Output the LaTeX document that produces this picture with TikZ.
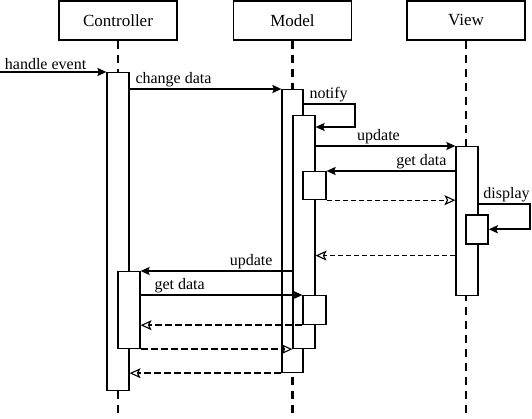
\documentclass[tikz,border=0pt]{standalone}
\usepackage{fontspec}
\setmainfont{Liberation Serif}
\usetikzlibrary{arrows.meta,positioning}

\tikzset{
	head/.style={draw, line width=1.5pt, minimum width=118pt, minimum height=39pt, inner sep=0pt, font=\fontsize{17}{20}\selectfont},
	life/.style={line width=2.6pt, dash pattern=on 8pt off 6pt},
	bar/.style={draw, fill=white, line width=1.2pt, anchor=north, inner sep=0pt, minimum width=22pt},
	call/.style={line width=1.8pt, -{Stealth[length=9pt,width=8pt,inset=1.5pt]}},
	ret/.style={line width=1.3pt, dash pattern=on 5pt off 3pt, -{Stealth[open,length=11pt,width=10pt,inset=2.5pt,line width=1.1pt,sep=0pt]}},
	retb/.style={ret, line width=2.4pt, dash pattern=on 7pt off 3pt},
	lbl/.style={font=\fontsize{16}{18}\selectfont, inner sep=1pt}
}

\begin{document}
\begin{tikzpicture}[x=1pt,y=-1pt]
	\useasboundingbox (0,0) rectangle (532,419);
	\coordinate (start) at (0,72);
	\coordinate (bottom) at (0,419);

	% objects and lifelines
	\node[head] (ctrl) at (118,20.5) {Controller};
	\node[head] (model) at (292.5,20.5) {Model};
	\node[head] (view) at (466,20.5) {View};
	\foreach \o in {ctrl,model,view}
		\draw[life] (\o.south) -- (\o.south |- bottom);

	% activations
	\node[bar, minimum height=318pt] (cbar) at (118,72) {};
	\node[bar, minimum height=77pt] (cnest) at (129,271) {};
	\node[bar, minimum height=283pt, minimum width=21pt] (mo) at (292.5,89) {};
	\node[bar, minimum height=233pt] (mi) at (304,115) {};
	\node[bar, minimum height=28pt, minimum width=23pt] (m1) at (314.5,171) {};
	\node[bar, minimum height=29pt, minimum width=23pt] (m2) at (314.5,295) {};
	\node[bar, minimum height=149pt] (vbar) at (467,146) {};
	\node[bar, minimum height=29pt, line width=1.6pt] (v1) at (477,214) {};

	% messages
	\draw[call] (start) -- node[lbl, above right, pos=0, xshift=3pt] {handle event} (cbar.north west);
	\draw[call] (cbar.east |- mo.north) -- node[lbl, above right, pos=0, xshift=4pt] {change data} (mo.north west);
	\draw[call] ([yshift=-15pt]mo.north east) node[lbl, above right, xshift=4pt] {notify} -- ++(51,0) |- ([yshift=-12pt]mi.north east);
	\draw[call] (mi.east |- vbar.north) -- node[lbl, above, pos=0.45] {update} (vbar.north west);
	\draw[call] (vbar.west |- m1.north) -- node[lbl, above left, pos=0, xshift=-7pt] {get data} (m1.north east);
	\draw[ret] (m1.south east) -- (vbar.west |- m1.south);
	\draw[call] ([yshift=10pt]v1.north -| vbar.east) -- ++(51,0) node[lbl, above left, xshift=2pt] {display} |- (v1.east);
	\draw[ret] ([yshift=-11pt]v1.south -| vbar.west) coordinate (r2) -- (mi.east |- r2);
	\draw[call] (mi.west |- cnest.north) -- node[lbl, above left, pos=0, xshift=-18pt] {update} (cnest.north east);
	\draw[call] (cnest.east |- m2.north) -- node[lbl, above right, pos=0, xshift=12pt] {get data} (m2.north west);
	\draw[retb] (m2.south west) -- (cnest.east |- m2.south);
	\draw[retb] (cnest.south east) -- (mi.south west);
	\draw[retb] (mo.south west) -- (cbar.east |- mo.south);
\end{tikzpicture}
\end{document}
